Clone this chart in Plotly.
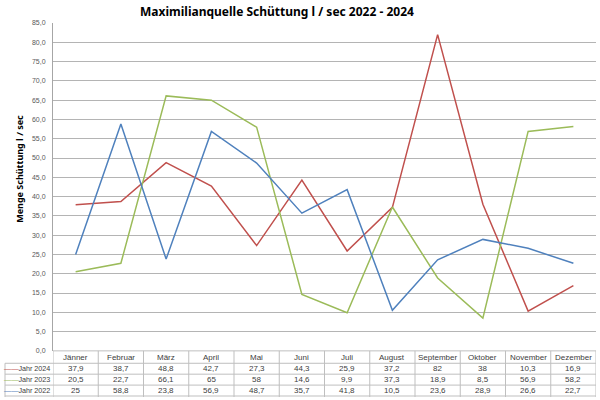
import plotly.graph_objects as go

months = ["Jänner", "Februar", "März", "April", "Mai", "Juni", "Juli",
          "August", "September", "Oktober", "November", "Dezember"]
jahr_2024 = [37.9, 38.7, 48.8, 42.7, 27.3, 44.3, 25.9, 37.2, 82, 38, 10.3, 16.9]
jahr_2023 = [20.5, 22.7, 66.1, 65, 58, 14.6, 9.9, 37.3, 18.9, 8.5, 56.9, 58.2]
jahr_2022 = [25, 58.8, 23.8, 56.9, 48.7, 35.7, 41.8, 10.5, 23.6, 28.9, 26.6, 22.7]

series = [("Jahr 2024", jahr_2024, "#C0504D"),
          ("Jahr 2023", jahr_2023, "#9BBB59"),
          ("Jahr 2022", jahr_2022, "#4F81BD")]

W, H = 600, 400
ml, mr, mt, mb = 5, 4, 23, 0
pw = W - ml - mr
ph = H - mt - mb
plot_left = 53
plot_bottom = 353.5

# table row boundaries (pixels from top)
row_lines = [353.5, 366, 377, 388, 399]

def py(p):
    return (H - mb - p) / ph

def px(p):
    return (p - ml) / pw

def fmt(v):
    return ("%g" % v).replace(".", ",")

grid = "#BFBFBF"
tfont = dict(family="Liberation Sans, Arial", size=8, color="#404040")

fig = go.Figure()
for name, vals, col in series:
    fig.add_trace(go.Scatter(x=list(range(12)), y=vals, mode="lines", name=name,
                             line=dict(color=col, width=1.5), showlegend=False,
                             hoverinfo="skip"))

shapes = []
annotations = []
# horizontal table lines
for k, r in enumerate(row_lines):
    x0 = px(plot_left) if k == 0 else 0
    shapes.append(dict(type="line", xref="paper", yref="paper", x0=x0, x1=1,
                       y0=py(r), y1=py(r), line=dict(color=grid, width=1)))
# vertical lines between month columns
for i in range(13):
    shapes.append(dict(type="line", xref="x", yref="paper", x0=i - 0.5, x1=i - 0.5,
                       y0=py(H), y1=py(row_lines[0]), line=dict(color=grid, width=1)))
# left border of the legend column
shapes.append(dict(type="line", xref="paper", yref="paper", x0=0, x1=0,
                   y0=py(H), y1=py(row_lines[1]), line=dict(color=grid, width=1)))

# header texts
for i, m in enumerate(months):
    annotations.append(dict(text=m, x=i, xref="x", yref="paper",
                            y=py((row_lines[0] + row_lines[1]) / 2),
                            xanchor="center", yanchor="middle", showarrow=False,
                            font=tfont))
# rows
for r, (name, vals, col) in enumerate(series):
    yc = py((row_lines[r + 1] + row_lines[r + 2]) / 2)
    annotations.append(dict(
        text='<span style="color:%s">——</span>%s' % (col, name),
        x=px(plot_left - 1), xref="paper", yref="paper", y=yc,
        xanchor="right", yanchor="middle", showarrow=False,
        font=dict(family="Liberation Sans, Arial", size=7.2, color="#404040")))
    for i, v in enumerate(vals):
        annotations.append(dict(text=fmt(v), x=i, xref="x", yref="paper", y=yc,
                                xanchor="center", yanchor="middle", showarrow=False,
                                font=tfont))

annotations += [
    dict(text="<b>Maximilianquelle Schüttung l / sec 2022 - 2024</b>",
         xref="paper", yref="paper", x=px(277), y=py(11),
         xanchor="center", yanchor="middle", showarrow=False,
         font=dict(family="Noto Sans, Open Sans", size=12, color="#000000")),
    dict(text="<b>Menge Schüttung l / sec</b>", textangle=-90,
         xref="paper", yref="paper", x=px(20), y=py(170),
         xanchor="center", yanchor="middle", showarrow=False,
         font=dict(family="Noto Sans, Open Sans", size=9, color="#000000")),
]

fig.update_layout(
    width=W, height=H,
    margin=dict(l=ml, r=mr, t=mt, b=mb, pad=0),
    paper_bgcolor="white", plot_bgcolor="white",
    separators=",.",
    hovermode=False,
    xaxis=dict(domain=[px(plot_left), 1], range=[-0.5, 11.5],
               showgrid=False, zeroline=False, showticklabels=False,
               ticks="", showline=False, fixedrange=True),
    yaxis=dict(domain=[py(plot_bottom), 1], range=[0, 85], dtick=5,
               tickformat=".1f", showgrid=True, gridcolor="#B4B4B4", gridwidth=1,
               zeroline=False, showline=True, linecolor="#A6A6A6", linewidth=1,
               ticks="", ticklabelstandoff=5, fixedrange=True,
               tickfont=dict(family="Liberation Sans, Arial", size=7, color="#595959")),
    shapes=shapes,
    annotations=annotations,
)

fig.write_html("out.html", config={"displayModeBar": False},
               post_script="document.body.style.margin='0';document.body.style.overflow='hidden';")
